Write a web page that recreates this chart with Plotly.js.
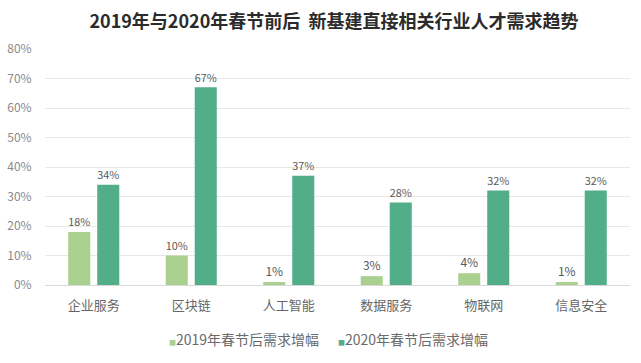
<!DOCTYPE html>
<html><head><meta charset="utf-8">
<script src="https://cdn.plot.ly/plotly-3.0.1.min.js"></script>
<style>html,body{margin:0;padding:0;background:#fff}#c{width:641px;height:363px}</style>
</head><body><div id="c"></div>
<script>
const categories = ['企业服务','区块链','人工智能','数据服务','物联网','信息安全'];
const series2019 = [18,10,1,3,4,1];
const series2020 = [34,67,37,28,32,32];
const seriesNames = ['2019年春节后需求增幅','2020年春节后需求增幅'];
const seriesColors = ['#aad08f','#52ae88'];
const yTickVals = [0,10,20,30,40,50,60,70,80];
const yTickText = yTickVals.map(v => v + '%');

const font = 'Noto Sans CJK SC, Noto Sans, sans-serif';
const barTrace = (vals, i) => ({
  type:'bar', name:seriesNames[i], x:categories, y:vals, showlegend:false,
  marker:{color:seriesColors[i]}, text:vals.map(v=>v+'%'), textposition:'outside',
  textfont:{color:'#595959', size:12, family:font}, cliponaxis:false
});
const legendTrace = i => ({
  type:'scatter', mode:'markers', x:[null], y:[null], legend: i === 0 ? 'legend' : 'legend2',
  name:'<span style="color:' + seriesColors[i] + ';font-size:7px">■</span>' + seriesNames[i],
  marker:{color:'rgba(0,0,0,0)', symbol:'square', size:1}, showlegend:true
});
const traces = [barTrace(series2019,0), barTrace(series2020,1), legendTrace(0), legendTrace(1)];
const legendBase = {orientation:'h', xanchor:'left', yref:'container', y:0.063, yanchor:'middle',
                    font:{size:14, color:'#6a6a6a'}, itemwidth:30, bgcolor:'rgba(0,0,0,0)'};
const layout = {
  width:641, height:363,
  margin:{l:45, r:11, t:49, b:78},
  paper_bgcolor:'#fff', plot_bgcolor:'#fff',
  font:{family:font, color:'#7f7f7f', size:12},
  title:{text:'<b>2019年与2020年春节前后  新基建直接相关行业人才需求趋势</b>',
         x:0.521, xanchor:'center', y:0.94, yanchor:'middle',
         font:{family:font, size:18, color:'#2b2b2b'}},
  barmode:'group', bargap:0.405, bargroupgap:0.24,
  xaxis:{tickfont:{size:13, color:'#666'}, showline:true, linecolor:'#d9d9d9',
         ticks:'outside', ticklen:8, tickcolor:'rgba(0,0,0,0)'},
  yaxis:{range:[0,80], tickvals:yTickVals, ticktext:yTickText, showgrid:true,
         gridcolor:'#e8e8e8', zeroline:false, tickfont:{size:12, color:'#8a8a8a'},
         ticks:'outside', ticklen:10, tickcolor:'rgba(0,0,0,0)'},
  legend:Object.assign({}, legendBase, {x:0.1436}),
  legend2:Object.assign({}, legendBase, {x:0.4325}),
  showlegend:true
};
Plotly.newPlot('c', traces, layout, {displayModeBar:false, staticPlot:true});
</script></body></html>
